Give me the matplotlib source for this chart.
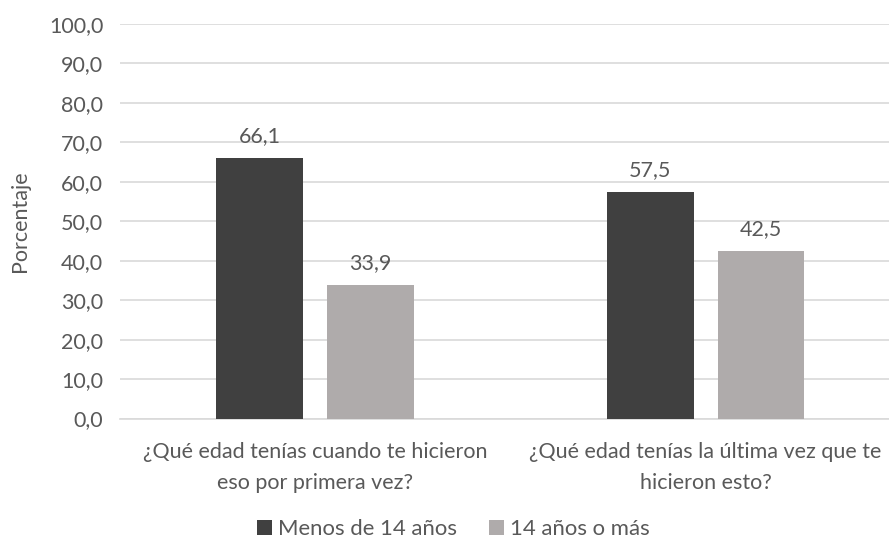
import numpy as np
import matplotlib.pyplot as plt

# Datos del gráfico
preguntas = ["¿Qué edad tenías cuando te hicieron\neso por primera vez?",
             "¿Qué edad tenías la última vez que te\nhicieron esto?"]
menos_14 = [66.1, 57.5]
mas_14 = [33.9, 42.5]
series = ["Menos de 14 años", "14 años o más"]

color_oscuro = "#404040"
color_claro = "#AFABAB"
color_texto = "#595959"
tam = 15.5

plt.rcParams['font.family'] = ['Lato', 'DejaVu Sans']

fig = plt.figure(figsize=(8.89, 5.4), dpi=100)
ax = fig.add_axes([120 / 889, 0.225, (889 - 120) / 889, 0.9556 - 0.225])

x = np.arange(len(preguntas))
ancho = 0.2225
desp = 0.142

b1 = ax.bar(x - desp, menos_14, ancho, color=color_oscuro, label=series[0], zorder=3)
b2 = ax.bar(x + desp, mas_14, ancho, color=color_claro, label=series[1], zorder=3)

# Etiquetas de valor con coma decimal
for barras in (b1, b2):
    for b in barras:
        v = b.get_height()
        ax.text(b.get_x() + b.get_width() / 2, v + 3.0, f"{v:.1f}".replace(".", ","),
                ha="center", va="bottom", fontsize=tam, color=color_texto)

ax.set_ylim(0, 100)
ax.set_xlim(-0.5, 1.47)
ax.set_yticks(np.arange(0, 101, 10))
ax.set_yticklabels([f"{v:.1f}".replace(".", ",") for v in np.arange(0, 101, 10)])
ax.set_xticks(x)
ax.set_xticklabels(preguntas, linespacing=1.7, fontsize=15.9)

ax.grid(axis="y", color="#D9D9D9", linewidth=1.2, zorder=0)
for lado in ("top", "right", "left"):
    ax.spines[lado].set_visible(False)
ax.spines["bottom"].set_color("#D9D9D9")
ax.spines["bottom"].set_linewidth(1.2)
ax.tick_params(axis="both", length=0, labelsize=tam, labelcolor=color_texto)
ax.tick_params(axis="y", pad=12)
ax.tick_params(axis="x", pad=17)

ax.set_ylabel("Porcentaje", fontsize=tam, color=color_texto, labelpad=14)

fig.legend(handles=[b1, b2], labels=series, loc="center", bbox_to_anchor=(0.51, 0.02),
           ncol=2, frameon=False, fontsize=15.9, labelcolor=color_texto,
           handlelength=0.7, handleheight=0.7, handletextpad=0.25, columnspacing=1.45,
           borderpad=0.1)

fig.savefig("out.png", dpi=100)
